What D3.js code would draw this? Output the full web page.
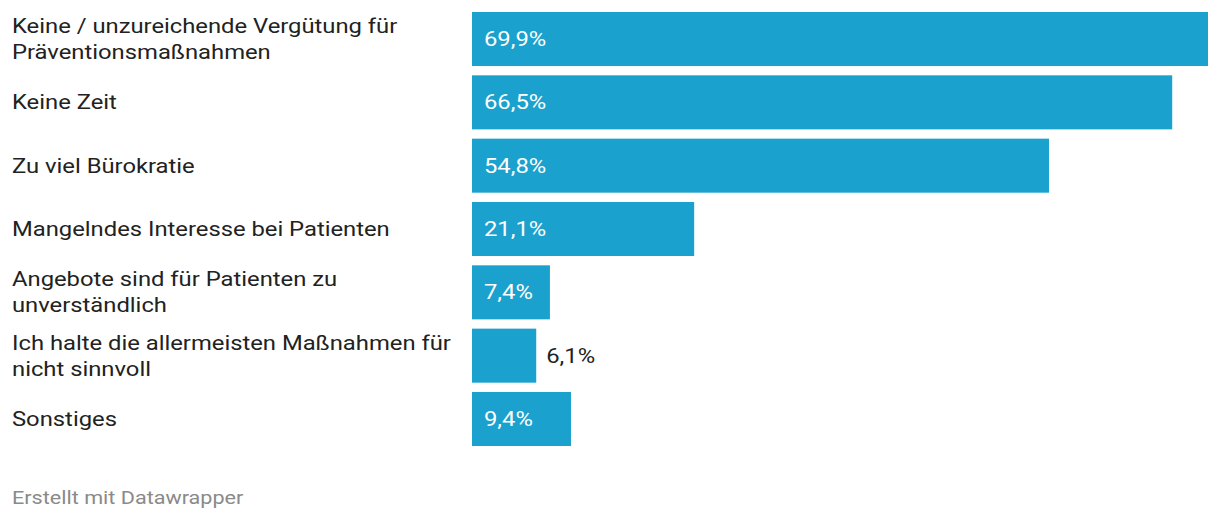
<!DOCTYPE html>
<html><head><meta charset="utf-8">
<script src="https://cdn.jsdelivr.net/npm/d3@7"></script>
<style>
html,body{margin:0;padding:0;background:#fff;}
svg{display:block;font-family:Roboto, sans-serif;}
</style></head>
<body>
<svg id="chart" width="1220" height="524"></svg>
<script>
const categories = [
  "Keine / unzureichende Vergütung für Präventionsmaßnahmen",
  "Keine Zeit",
  "Zu viel Bürokratie",
  "Mangelndes Interesse bei Patienten",
  "Angebote sind für Patienten zu unverständlich",
  "Ich halte die allermeisten Maßnahmen für nicht sinnvoll",
  "Sonstiges"
];
const values = [69.9, 66.5, 54.8, 21.1, 7.4, 6.1, 9.4];
const footer = "Erstellt mit Datawrapper";

const svg = d3.select("#chart");
const x = d3.scaleLinear().domain([0, 69.9]).range([472, 1208]);
const y = d3.scaleBand().domain(categories).range([12, 446]).paddingInner(0.147).paddingOuter(0);
const color = "#1aa1ce";
const sx = 1.19;
const fmt = v => d3.format(".1f")(v).replace(".", ",") + "%";

const rows = svg.selectAll("g.row").data(categories.map((c, i) => ({c, v: values[i]})))
  .enter().append("g").attr("class", "row");

rows.append("rect")
  .attr("x", x(0))
  .attr("y", d => y(d.c))
  .attr("width", d => Math.max(x(d.v) - x(0), 0))
  .attr("height", y.bandwidth())
  .attr("fill", color);

// value labels
rows.append("text")
  .attr("dy", "0.35em")
  .attr("font-size", 20)
  .each(function(d) {
    const t = d3.select(this).text(fmt(d.v));
    const w = this.getComputedTextLength() * sx;
    const barW = x(d.v) - x(0);
    const cy = y(d.c) + y.bandwidth() / 2;
    let px;
    if (w + 24 <= barW) { px = x(0) + 12; t.attr("fill", "#fff"); }
    else { px = x(d.v) + 10; t.attr("fill", "#222"); }
    t.attr("transform", `translate(${px},${cy}) scale(${sx},1)`);
  });

// category labels with wrapping
const maxW = 380, lineH = 26;
rows.append("text")
  .attr("font-size", 20)
  .attr("fill", "#222")
  .each(function(d) {
    const t = d3.select(this);
    const words = d.c.split(" ");
    const lines = [];
    let cur = "";
    const probe = t.append("tspan");
    words.forEach(wd => {
      const test = cur ? cur + " " + wd : wd;
      probe.text(test);
      if (probe.node().getComputedTextLength() > maxW && cur) {
        lines.push(cur); cur = wd;
      } else cur = test;
    });
    lines.push(cur);
    probe.remove();
    const cy = y(d.c) + y.bandwidth() / 2;
    const startY = -(lines.length - 1) * lineH / 2;
    t.attr("transform", `translate(12,${cy}) scale(${sx},1)`);
    lines.forEach((ln, i) => {
      t.append("tspan").attr("x", 0).attr("y", startY + i * lineH).attr("dy", "0.35em").text(ln);
    });
  });

svg.append("text")
  .attr("transform", `translate(12,498) scale(1.2,1)`)
  .attr("dy", "0.35em")
  .attr("font-size", 18).attr("fill", "#8a8a8a")
  .text(footer);
</script>
</body></html>
